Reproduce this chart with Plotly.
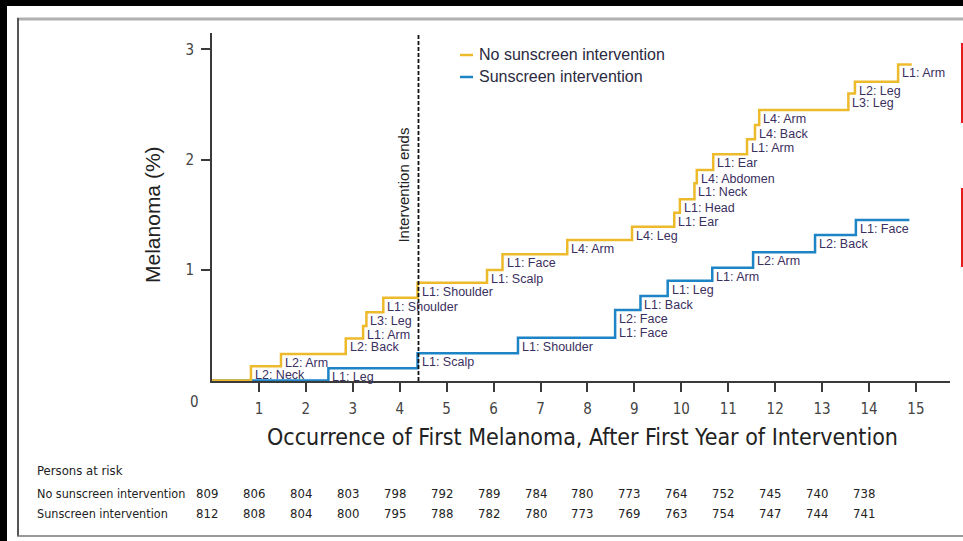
import plotly.graph_objects as go

# ---------------- data ----------------
no_sun_times = [0.83, 1.47, 2.85, 3.22, 3.29, 3.65, 4.38, 5.86, 6.19, 7.57, 8.95,
                9.85, 9.97, 10.28, 10.33, 10.68, 11.40, 11.57, 11.66, 13.56, 13.70, 14.62]
no_sun_levels = [0.128, 0.239, 0.381, 0.493, 0.617, 0.750, 0.886, 1.000, 1.143, 1.272, 1.393,
                 1.520, 1.641, 1.786, 1.907, 2.050, 2.185, 2.314, 2.450, 2.600, 2.707, 2.864]
no_sun_labels = ["L2: Neck", "L2: Arm", "L2: Back", "L1: Arm", "L3: Leg", "L1: Shoulder",
                 "L1: Shoulder", "L1: Scalp", "L1: Face", "L4: Arm", "L4: Leg", "L1: Ear",
                 "L1: Head", "L1: Neck", "L4: Abdomen", "L1: Ear", "L1: Arm", "L4: Back",
                 "L4: Arm", "L3: Leg", "L2: Leg", "L1: Arm"]
no_sun_end = 14.91

sun_times = [2.48, 4.38, 6.52, 8.59, 8.59, 9.13, 9.71, 10.66, 11.53, 12.85, 13.72]
sun_levels = [0.110, 0.246, 0.387, 0.510, 0.638, 0.765, 0.903, 1.021, 1.161, 1.318, 1.454]
sun_labels = ["L1: Leg", "L1: Scalp", "L1: Shoulder", "L1: Face", "L2: Face", "L1: Back",
              "L1: Leg", "L1: Arm", "L2: Arm", "L2: Back", "L1: Face"]
sun_end = 14.86

intervention_end = 4.4

risk_years = list(range(15))
risk_no_sun = [809, 806, 804, 803, 798, 792, 789, 784, 780, 773, 764, 752, 745, 740, 738]
risk_sun = [812, 808, 804, 800, 795, 788, 782, 780, 773, 769, 763, 754, 747, 744, 741]

x_ticks = list(range(1, 16))
y_ticks = [1, 2, 3]

# ---------------- style ----------------
YELLOW = "#EDBA2C"
BLUE = "#1D84C6"
LABEL_C = "#3b2f60"
AXIS_C = "#3a3a3a"
ARIAL = "Liberation Sans, Arial, sans-serif"
NARROW = "Liberation Sans Narrow, DejaVu Sans Condensed, Arial Narrow, sans-serif"

W, H = 963, 541
ML, MR, MT, MB = 212, 13, 33, 160
PW, PH = W - ML - MR, H - MT - MB


def px(xp):
    return (xp - ML) / PW


def py(yp):
    return (H - MB - yp) / PH


fig = go.Figure()

# blue first so yellow is drawn on top where they overlap
fig.add_trace(go.Scatter(
    x=[0] + sun_times + [sun_end], y=[0] + sun_levels + [sun_levels[-1]],
    mode="lines", line=dict(color=BLUE, width=2.5, shape="hv"),
    name="Sunscreen intervention", showlegend=False, hoverinfo="skip"))
fig.add_trace(go.Scatter(
    x=[0] + no_sun_times + [no_sun_end], y=[0] + no_sun_levels + [no_sun_levels[-1]],
    mode="lines", line=dict(color=YELLOW, width=2.5, shape="hv"),
    name="No sunscreen intervention", showlegend=False, hoverinfo="skip"))

ann = []
for t, lv, lab in list(zip(no_sun_times, no_sun_levels, no_sun_labels)) + \
        list(zip(sun_times, sun_levels, sun_labels)):
    ann.append(dict(x=t, y=lv, xref="x", yref="y", text=lab, showarrow=False,
                    xanchor="left", yanchor="top", xshift=2, yshift=0,
                    font=dict(family=ARIAL, size=12.5, color=LABEL_C)))

# intervention ends
ann.append(dict(x=intervention_end, y=1.77, xref="x", yref="y", text="Intervention ends",
                textangle=-90, showarrow=False, xanchor="center", yanchor="middle",
                xshift=-15, font=dict(family=ARIAL, size=15, color="#222222")))

# axis titles / origin
ann.append(dict(x=px(152), y=py(215), xref="paper", yref="paper", text="Melanoma (%)",
                textangle=-90, showarrow=False, xanchor="center", yanchor="middle",
                font=dict(family=ARIAL, size=21, color="#222222")))
ann.append(dict(x=px(582), y=py(437), xref="paper", yref="paper",
                text="Occurrence of First Melanoma, After First Year of Intervention",
                showarrow=False, xanchor="center", yanchor="middle",
                font=dict(family=NARROW, size=23, color="#222222")))
ann.append(dict(x=px(194), y=py(402), xref="paper", yref="paper", text="0",
                showarrow=False, xanchor="center", yanchor="middle",
                font=dict(family=NARROW, size=15, color="#444444")))

# legend (manual)
ann.append(dict(x=px(477), y=py(55), xref="paper", yref="paper",
                text="No sunscreen intervention", showarrow=False,
                xanchor="left", yanchor="middle",
                font=dict(family=ARIAL, size=16, color="#2a2a40")))
ann.append(dict(x=px(477), y=py(77), xref="paper", yref="paper",
                text="Sunscreen intervention", showarrow=False,
                xanchor="left", yanchor="middle",
                font=dict(family=ARIAL, size=16, color="#2a2a40")))

# persons at risk table
TBL = 13
ann.append(dict(x=px(35), y=py(470), xref="paper", yref="paper", text="Persons at risk",
                showarrow=False, xanchor="left", yanchor="middle",
                font=dict(family=NARROW, size=TBL, color="#222222")))
ann.append(dict(x=px(35), y=py(493), xref="paper", yref="paper",
                text="No sunscreen intervention", showarrow=False,
                xanchor="left", yanchor="middle",
                font=dict(family=NARROW, size=TBL - 0.5, color="#222222")))
ann.append(dict(x=px(35), y=py(513), xref="paper", yref="paper",
                text="Sunscreen intervention", showarrow=False,
                xanchor="left", yanchor="middle",
                font=dict(family=NARROW, size=TBL - 0.5, color="#222222")))
for yr, a, b in zip(risk_years, risk_no_sun, risk_sun):
    for val, yp in ((a, 493), (b, 513)):
        ann.append(dict(x=yr, y=py(yp), xref="x", yref="paper", text=str(val),
                        showarrow=False, xanchor="center", yanchor="middle", xshift=-5,
                        font=dict(family=NARROW, size=TBL, color="#222222")))

shapes = [
    # intervention end dashed line
    dict(type="line", xref="x", yref="paper", x0=intervention_end, x1=intervention_end,
         y0=0, y1=1, line=dict(color="#111111", width=1.8, dash="4px,2px")),
    # legend samples
    dict(type="line", xref="paper", yref="paper", x0=px(460), x1=px(473), y0=py(55), y1=py(55),
         line=dict(color=YELLOW, width=2.5)),
    dict(type="line", xref="paper", yref="paper", x0=px(460), x1=px(473), y0=py(77), y1=py(77),
         line=dict(color=BLUE, width=2.5)),
    # black borders of the screenshot
    dict(type="rect", xref="paper", yref="paper", x0=px(0), x1=px(W), y0=py(0), y1=py(6),
         line=dict(width=0), fillcolor="black", layer="above"),
    dict(type="rect", xref="paper", yref="paper", x0=px(0), x1=px(7), y0=py(0), y1=py(H),
         line=dict(width=0), fillcolor="black", layer="above"),
    # frame
    dict(type="line", xref="paper", yref="paper", x0=px(17), x1=px(W), y0=py(19), y1=py(19),
         line=dict(color="#b0b0b0", width=3)),
    dict(type="line", xref="paper", yref="paper", x0=px(18), x1=px(18), y0=py(18), y1=py(536),
         line=dict(color="#555555", width=2)),
    dict(type="line", xref="paper", yref="paper", x0=px(17), x1=px(W), y0=py(536), y1=py(536),
         line=dict(color="#777777", width=1.5)),
    # red marks at right edge
    dict(type="line", xref="paper", yref="paper", x0=px(962), x1=px(962), y0=py(43), y1=py(123),
         line=dict(color="#e8191c", width=2)),
    dict(type="line", xref="paper", yref="paper", x0=px(962), x1=px(962), y0=py(188), y1=py(267),
         line=dict(color="#e8191c", width=2)),
]

fig.update_layout(
    width=W, height=H,
    margin=dict(l=ML, r=MR, t=MT, b=MB, pad=0),
    paper_bgcolor="white", plot_bgcolor="white",
    showlegend=False,
    annotations=ann, shapes=shapes,
    xaxis=dict(range=[0, PW / 46.93], tickvals=x_ticks, ticktext=[str(v) for v in x_ticks],
               showline=True, linecolor=AXIS_C, linewidth=2, ticks="outside", ticklen=9,
               tickwidth=2, tickcolor=AXIS_C, showgrid=False, zeroline=False,
               layer="below traces", ticklabelstandoff=4,
               tickfont=dict(family=NARROW, size=15, color="#444444"), fixedrange=True),
    yaxis=dict(range=[-0.005, -0.005 + PH / 110.35], tickvals=y_ticks,
               ticktext=[str(v) for v in y_ticks],
               showline=True, linecolor=AXIS_C, linewidth=2, ticks="outside", ticklen=9,
               tickwidth=2, tickcolor=AXIS_C, showgrid=False, zeroline=False,
               layer="below traces", ticklabelstandoff=4,
               tickfont=dict(family=NARROW, size=15, color="#444444"), fixedrange=True),
)

fig.write_html("out.html", config={"displayModeBar": False},
               post_script="document.body.style.margin='0px';document.body.style.padding='0px';")
